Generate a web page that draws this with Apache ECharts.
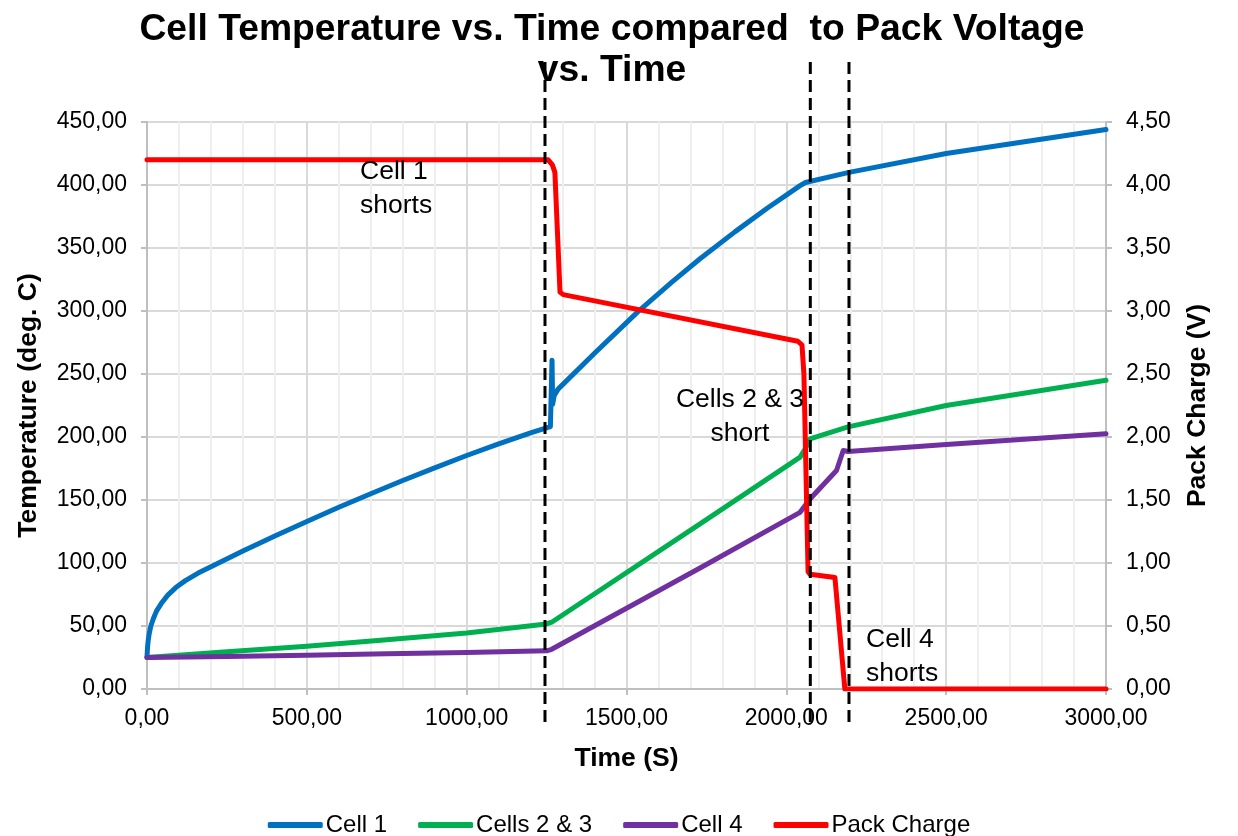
<!DOCTYPE html>
<html>
<head>
<meta charset="utf-8">
<script src="https://cdn.jsdelivr.net/npm/echarts@6/dist/echarts.min.js"></script>
<style>
  html, body { margin: 0; padding: 0; background: #ffffff; }
  #chart { width: 1238px; height: 836px; }
</style>
</head>
<body>
<div id="chart"></div>
<script>
// ---------------- DATA ----------------
const seriesNames = ['Cell 1', 'Cells 2 & 3', 'Cell 4', 'Pack Charge'];

const cell1Time = [0, 1, 2, 4, 7, 12, 20, 30, 45, 65, 90, 120, 160, 200, 300, 400, 500, 600, 700, 800, 900, 1000, 1100, 1200, 1262, 1266, 1267, 1269, 1274, 1286, 1400, 1536, 1640, 1730, 1840, 1940, 2043, 2060, 2196, 2500, 3000];
const cell1Temp = [25, 30, 34, 39, 44, 50, 56, 62, 68, 74.5, 80.5, 86, 92, 97, 109.5, 121.5, 133, 144.3, 155, 165.5, 175.5, 185.3, 194.5, 203.3, 208.3, 209, 261, 226, 233, 238, 266.5, 299.5, 322.5, 341.5, 363, 381.5, 399.5, 402, 410, 425, 444];

const cells23Time = [0, 250, 500, 750, 1000, 1250, 1266, 1730, 2043, 2060, 2074, 2193, 2500, 3000];
const cells23Temp = [25, 29.5, 34, 39, 44.5, 51.6, 53, 131, 184, 191, 198.6, 208, 225, 245];

const cell4Time = [0, 250, 500, 750, 1000, 1250, 1266, 1730, 2043, 2074, 2157, 2178, 2193, 2500, 3000];
const cell4Temp = [25, 25.8, 26.8, 27.9, 29, 30.3, 31.5, 96, 140.2, 150.8, 173.4, 189.3, 188.5, 194, 202.6];

const packTime = [0, 1255, 1261, 1268, 1276, 1292, 1302, 2036, 2049, 2055, 2068, 2074, 2152, 2183, 3000];
const packVolt = [4.2, 4.2, 4.19, 4.16, 4.1, 3.15, 3.13, 2.76, 2.73, 2.5, 0.93, 0.91, 0.885, 0, 0];

// times at which the cells short (dashed markers)
const shortTimes = [1245, 2075, 2196];

const annotations = [
  { text: 'Cell 1\nshorts', x: 360, y: 155, align: 'left' },
  { text: 'Cells 2 & 3\nshort', x: 740, y: 383, align: 'center' },
  { text: 'Cell 4\nshorts', x: 866, y: 623, align: 'left' }
];

const colors = ['#0070C0', '#00B050', '#7030A0', '#FF0000'];

// ---------------- BUILD ----------------
function zip(a, b) { return a.map((t, i) => [t, b[i]]); }
function fmt(v) { return v.toFixed(2).replace('.', ','); }

const FONT = 'Liberation Sans, Arial, sans-serif';
const chart = echarts.init(document.getElementById('chart'), null, { renderer: 'canvas' });

const lineSeries = (name, data, color, yIdx) => ({
  name: name,
  type: 'line',
  yAxisIndex: yIdx,
  data: data,
  showSymbol: false,
  symbol: 'none',
  animation: false,
  lineStyle: { width: 5, color: color, cap: 'round', join: 'round' },
  itemStyle: { color: color }
});

const nameStyle = { fontFamily: FONT, fontSize: 26.5, fontWeight: 'bold', color: '#000' };

const option = {
  animation: false,
  backgroundColor: '#ffffff',
  title: {
    text: 'Cell Temperature vs. Time compared  to Pack Voltage\nvs. Time',
    left: 607,
    top: 4,
    textAlign: 'center',
    textStyle: { fontFamily: FONT, fontSize: 37.3, fontWeight: 'bold', color: '#000', lineHeight: 41 }
  },
  grid: { left: 147, right: 132, top: 122, bottom: 147, containLabel: false },
  legend: {
    top: 808,
    left: 'center',
    itemWidth: 55,
    itemHeight: 6,
    itemGap: 31,
    icon: 'roundRect',
    data: seriesNames,
    textStyle: { fontFamily: FONT, fontSize: 24, color: '#000', padding: [0, 0, 0, -2] }
  },
  xAxis: {
    type: 'value',
    min: 0, max: 3000, interval: 500,
    name: 'Time (S)',
    nameLocation: 'middle',
    nameGap: 56,
    nameTextStyle: nameStyle,
    axisLine: { show: true, onZero: false, lineStyle: { color: '#bfbfbf', width: 2 } },
    axisTick: { show: true, length: 6, lineStyle: { color: '#bfbfbf', width: 2 } },
    axisLabel: { fontFamily: FONT, fontSize: 23, color: '#000', margin: 18, formatter: fmt },
    splitLine: { show: true, lineStyle: { color: '#d9d9d9', width: 2 } },
    minorTick: { show: false, splitNumber: 5 },
    minorSplitLine: { show: true, lineStyle: { color: '#efefef', width: 2 } }
  },
  yAxis: [
    {
      type: 'value',
      min: 0, max: 450, interval: 50,
      name: 'Temperature (deg. C)',
      nameLocation: 'middle',
      nameGap: 105,
      nameTextStyle: nameStyle,
      axisLine: { show: true, lineStyle: { color: '#bfbfbf', width: 2 } },
      axisTick: { show: true, length: 6, lineStyle: { color: '#bfbfbf', width: 2 } },
      axisLabel: { fontFamily: FONT, fontSize: 23, color: '#000', margin: 20, formatter: fmt },
      splitLine: { show: true, lineStyle: { color: '#d9d9d9', width: 2 } }
    },
    {
      type: 'value',
      min: 0, max: 4.5, interval: 0.5,
      name: 'Pack Charge (V)',
      nameLocation: 'middle',
      nameGap: 78,
      nameRotate: 90,
      nameTextStyle: nameStyle,
      axisLine: { show: true, lineStyle: { color: '#bfbfbf', width: 2 } },
      axisTick: { show: true, length: 6, lineStyle: { color: '#bfbfbf', width: 2 } },
      axisLabel: { fontFamily: FONT, fontSize: 23, color: '#000', margin: 20, formatter: fmt },
      splitLine: { show: false }
    }
  ],
  series: [
    lineSeries(seriesNames[0], zip(cell1Time, cell1Temp), colors[0], 0),
    lineSeries(seriesNames[1], zip(cells23Time, cells23Temp), colors[1], 0),
    lineSeries(seriesNames[2], zip(cell4Time, cell4Temp), colors[2], 0),
    lineSeries(seriesNames[3], zip(packTime, packVolt), colors[3], 1)
  ]
};

chart.setOption(option);

// dashed marker lines (positions from axis scale) + annotations
const graphics = [];
shortTimes.forEach(t => {
  const px = chart.convertToPixel({ xAxisIndex: 0 }, t);
  graphics.push({
    type: 'line',
    z: 100,
    shape: { x1: px, y1: 62, x2: px, y2: 723 },
    style: { stroke: '#000', lineWidth: 3, lineDash: [12, 6] }
  });
});
annotations.forEach(a => {
  graphics.push({
    type: 'text',
    z: 90,
    x: a.x,
    y: a.y,
    style: {
      text: a.text,
      font: '26.5px ' + FONT,
      fill: '#000',
      textAlign: a.align,
      lineHeight: 34
    }
  });
});
chart.setOption({ graphic: graphics });
</script>
</body>
</html>
